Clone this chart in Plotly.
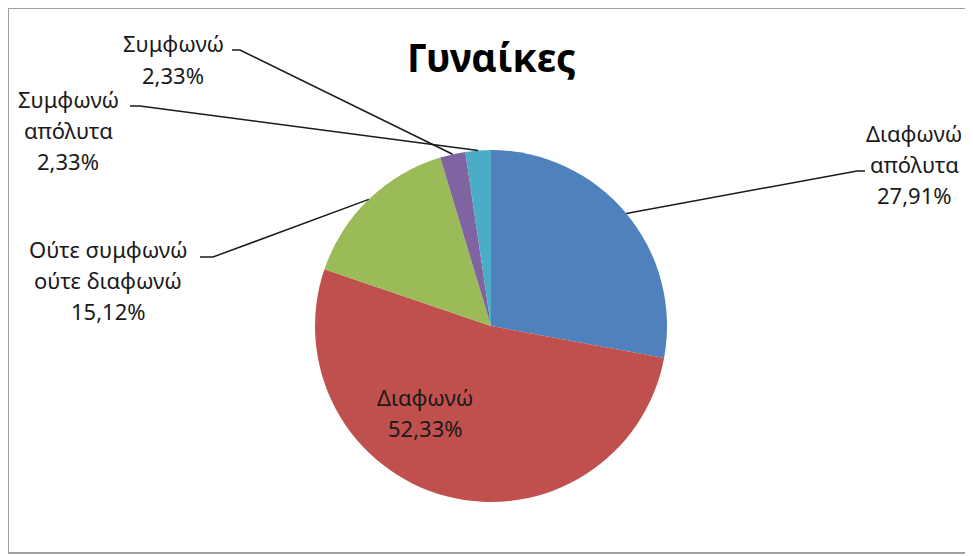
import math
import plotly.graph_objects as go

# the page body adds an 8px margin, so the figure is drawn 8px in from the corner
OFF = 8
W, H = 973 - OFF, 556 - OFF

labels = ["Διαφωνώ απόλυτα", "Διαφωνώ", "Ούτε συμφωνώ ούτε διαφωνώ", "Συμφωνώ", "Συμφωνώ απόλυτα"]
values = [27.91, 52.33, 15.12, 2.33, 2.33]
colors = ["#4F81BD", "#C0504D", "#9BBB59", "#8064A2", "#4BACC6"]
label_lines = [
    ["Διαφωνώ", "απόλυτα"],
    ["Διαφωνώ"],
    ["Ούτε συμφωνώ", "ούτε διαφωνώ"],
    ["Συμφωνώ"],
    ["Συμφωνώ", "απόλυτα"],
]

# pie geometry in screen pixels
cx, cy, r = 491, 326, 176

# label placement: (text centre x, block centre y, elbow, tail end) in screen pixels; None = inside
label_pos = [
    (914, 164, (857, 171), (865, 171)),
    (425, 412, None, None),
    (108, 280, (213, 257), (200, 257)),
    (173, 59, (240, 50), (232, 50)),
    (68, 130, (140, 106), (130, 106)),
]
LINE_STEP = 31


def px(x):
    return (x - OFF) / W


def py(y):
    return 1 - (y - OFF) / H


def fmt(v):
    return f"{v:.2f}".replace(".", ",") + "%"


fig = go.Figure(
    go.Pie(
        labels=labels,
        values=values,
        sort=False,
        direction="clockwise",
        rotation=0,
        marker=dict(colors=colors, line=dict(width=0)),
        textinfo="none",
        hoverinfo="label+percent",
        showlegend=False,
        domain=dict(x=[px(cx - r), px(cx + r)], y=[py(cy + r), py(cy - r)]),
    )
)

annotations = []
shapes = []
total = sum(values)
cum = 0
for v, lines, (tx, ty, elbow, tail) in zip(values, label_lines, label_pos):
    mid = (cum + v / 2) / total * 2 * math.pi
    cum += v
    ax = cx + r * math.sin(mid)
    ay = cy - r * math.cos(mid)
    rows = lines + [fmt(v)]
    n = len(rows)
    for i, t in enumerate(rows):
        annotations.append(
            dict(
                x=px(tx),
                y=py(ty + (i - (n - 1) / 2) * LINE_STEP),
                xref="paper",
                yref="paper",
                text=t,
                showarrow=False,
                xanchor="center",
                yanchor="middle",
                font=dict(size=22, color="#1a1a1a", family="Noto Sans, sans-serif"),
            )
        )
    if elbow is not None:
        shapes.append(
            dict(
                type="path",
                xref="paper",
                yref="paper",
                path=f"M {px(ax)},{py(ay)} L {px(elbow[0])},{py(elbow[1])} L {px(tail[0])},{py(tail[1])}",
                line=dict(color="#1a1a1a", width=1.5),
            )
        )

annotations.append(
    dict(
        x=px(491),
        y=py(57),
        xref="paper",
        yref="paper",
        text="<b>Γυναίκες</b>",
        showarrow=False,
        xanchor="center",
        yanchor="middle",
        font=dict(size=39, color="#000000", family="Noto Sans, sans-serif"),
    )
)

# chart area border
shapes.append(
    dict(
        type="rect",
        xref="paper",
        yref="paper",
        x0=px(8),
        y0=py(553),
        x1=px(985),
        y1=py(8),
        line=dict(color="#A0A0A0", width=2),
    )
)

fig.update_layout(
    width=W,
    height=H,
    margin=dict(l=0, r=0, t=0, b=0),
    paper_bgcolor="white",
    plot_bgcolor="white",
    annotations=annotations,
    shapes=shapes,
)

fig.write_html("out.html")
